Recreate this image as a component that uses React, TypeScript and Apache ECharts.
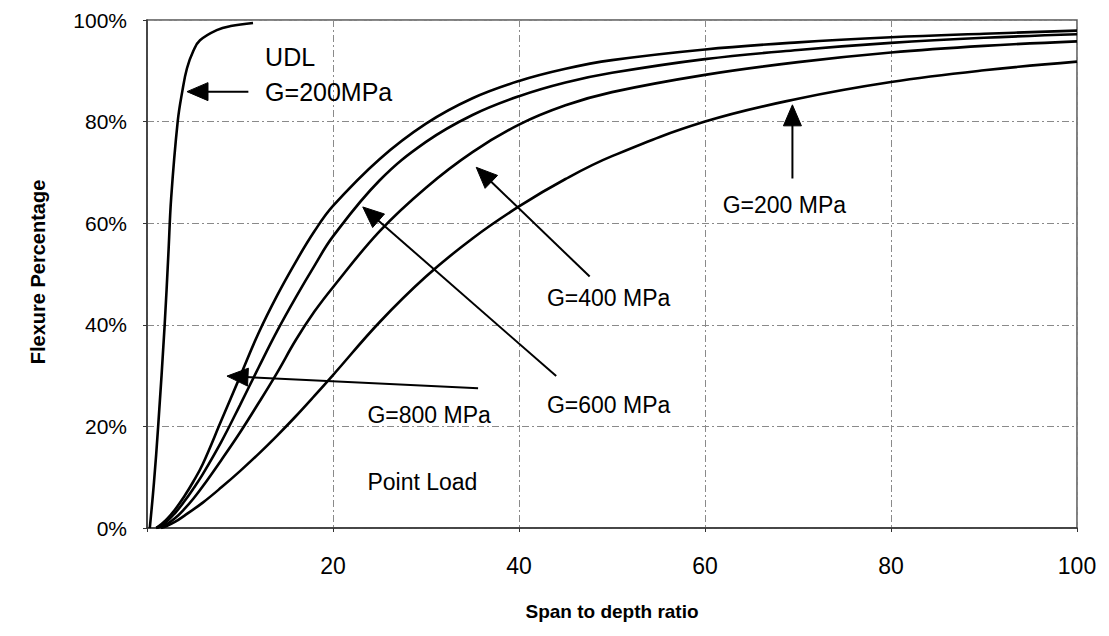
import React, { useEffect, useRef } from "react";
import * as echarts from "echarts";

// ---- data (span-to-depth ratio vs flexure percentage) ----
const udlSpan = [0.3, 0.75, 1.2, 1.9, 2.3, 2.6, 3.3, 3.8, 4.3, 5, 5.7, 7.5, 9, 11.4];
const udlFlex = [0, 9, 20, 40, 54, 65, 80, 86, 90.5, 94, 96, 98, 98.8, 99.4];

const plSpan = [1, 2, 3, 4, 5, 6, 8, 10, 12, 14, 16, 18, 20, 25, 30, 35, 40, 45, 50, 60, 70, 80, 90, 100];
const flexG800 = [0, 1.5, 3.6, 6.2, 9.2, 12.6, 21.2, 29.8, 38.4, 45.8, 52.4, 58.4, 63.4, 72.6, 79.6, 84.6, 88, 90.4, 92.1, 94.2, 95.6, 96.6, 97.3, 97.9];
const flexG600 = [0, 1.1, 2.9, 5.2, 7.8, 10.6, 17, 24.2, 31.6, 38.8, 45.4, 51.6, 57.4, 68.4, 76, 81.3, 85, 87.7, 89.6, 92.3, 94.1, 95.5, 96.5, 97.2];
const flexG400 = [0, 0.6, 1.9, 3.7, 5.8, 8.2, 13.4, 18.8, 24.6, 30.6, 37, 42.6, 47.4, 58.4, 67, 74, 79.4, 83.2, 85.8, 89.2, 91.7, 93.6, 94.9, 95.8];
const plSpanG200 = [1.5, 2, 3, 4, 6, 8, 10, 12, 14, 16, 18, 20, 25, 30, 35, 40, 45, 50, 60, 70, 80, 90, 100];
const flexG200 = [0, 0.3, 1.2, 2.4, 5, 8, 11.2, 14.6, 18.2, 22, 26, 30.1, 40.5, 49.5, 57, 63.3, 68.7, 73.2, 80, 84.5, 87.8, 90.1, 91.8];

const xTickValues = [20, 40, 60, 80, 100];

// annotations in data coordinates
const arrowTips = [[4.3, 85.9], [8.6, 29.9], [23.2, 63.2], [35.4, 71.0], [69.4, 83.3]];
const arrowTails = [[10.9, 85.9], [35.6, 27.5], [44.0, 29.9], [47.6, 49.5], [69.4, 68.8]];
const noteTexts = ["UDL", "G=200MPa", "G=800 MPa", "Point Load", "G=600 MPa", "G=400 MPa", "G=200 MPa"];
const notePos = [[12.7, 92.7], [12.7, 85.9], [23.7, 22.2], [23.7, 9.1], [43.0, 24.2], [43.0, 45.3], [61.9, 63.6]];
const noteSizes = [25, 25, 23, 23, 23, 23, 23];

const FONT = "'Liberation Sans', Arial, sans-serif";

const pairs = (xs: number[], ys: number[]) => xs.map((x, i) => [x, ys[i]]);

export default function App() {
  const ref = useRef<HTMLDivElement>(null);
  useEffect(() => {
    document.body.style.margin = "0";
    const chart = echarts.init(ref.current!, null, { renderer: "svg" });
    const lineStyle = { color: "#000", width: 2.6 };
    const mk = (name: string, data: number[][]) => ({
      type: "line",
      name,
      data,
      showSymbol: false,
      smooth: 0.4,
      lineStyle,
      z: 3,
    });
    chart.setOption({
      animation: false,
      backgroundColor: "#fff",
      grid: {
        left: 147,
        top: 20,
        right: 32,
        bottom: 108,
        show: true,
        borderColor: "#555",
        borderWidth: 1.5,
      },
      xAxis: {
        type: "value",
        min: 0,
        max: 100,
        interval: 20,
        axisLine: { show: true, lineStyle: { color: "#333", width: 1.5 } },
        axisTick: { show: true, length: 4, lineStyle: { color: "#333" } },
        axisLabel: {
          margin: 26,
          color: "#000",
          fontFamily: FONT,
          fontSize: 23,
          formatter: (v: number) => (xTickValues.includes(v) ? String(v) : ""),
        },
        splitLine: { show: true, lineStyle: { color: "#8a8a8a", width: 1, type: [7, 3, 2, 3] } },
      },
      yAxis: {
        type: "value",
        min: 0,
        max: 100,
        interval: 20,
        axisLine: { show: true, lineStyle: { color: "#333", width: 1.5 } },
        axisTick: { show: true, length: 4, lineStyle: { color: "#333" } },
        axisLabel: {
          margin: 20,
          color: "#000",
          fontFamily: FONT,
          fontSize: 21,
          formatter: "{value}%",
        },
        splitLine: { show: true, lineStyle: { color: "#8a8a8a", width: 1, type: [7, 3, 2, 3] } },
      },
      series: [
        mk("UDL G=200MPa", pairs(udlSpan, udlFlex)),
        mk("G=800 MPa", pairs(plSpan, flexG800)),
        mk("G=600 MPa", pairs(plSpan, flexG600)),
        mk("G=400 MPa", pairs(plSpan, flexG400)),
        mk("G=200 MPa", pairs(plSpanG200, flexG200)),
      ],
    });

    const toPx = (p: number[]) => chart.convertToPixel({ gridIndex: 0 }, p) as number[];
    const graphics: any[] = [];
    arrowTips.forEach((tipD, i) => {
      const tip = toPx(tipD);
      const tail = toPx(arrowTails[i]);
      const dx = tail[0] - tip[0];
      const dy = tail[1] - tip[1];
      const len = Math.hypot(dx, dy);
      const ux = dx / len;
      const uy = dy / len;
      const hl = 21;
      const hw = 9;
      const bx = tip[0] + ux * hl;
      const by = tip[1] + uy * hl;
      graphics.push({
        type: "line",
        shape: { x1: bx - ux * 2, y1: by - uy * 2, x2: tail[0], y2: tail[1] },
        style: { stroke: "#000", lineWidth: 2 },
        z: 10,
      });
      graphics.push({
        type: "polygon",
        shape: {
          points: [
            [tip[0], tip[1]],
            [bx - uy * hw, by + ux * hw],
            [bx + uy * hw, by - ux * hw],
          ],
        },
        style: { fill: "#000", stroke: "#000", lineWidth: 1 },
        z: 10,
      });
    });
    noteTexts.forEach((t, i) => {
      const p = toPx(notePos[i]);
      graphics.push({
        type: "text",
        x: p[0],
        y: p[1],
        style: {
          text: t,
          fill: "#000",
          font: `${noteSizes[i]}px ${FONT}`,
          align: "left",
          verticalAlign: "middle",
        },
        z: 10,
      });
    });
    graphics.push({
      type: "text",
      x: 612,
      y: 611,
      style: {
        text: "Span to depth ratio",
        fill: "#000",
        font: `bold 19px ${FONT}`,
        align: "center",
        verticalAlign: "middle",
      },
    });
    graphics.push({
      type: "text",
      x: 38,
      y: 272,
      rotation: Math.PI / 2,
      style: {
        text: "Flexure Percentage",
        fill: "#000",
        font: `bold 20px ${FONT}`,
        align: "center",
        verticalAlign: "middle",
      },
    });
    chart.setOption({ graphic: graphics });
    return () => chart.dispose();
  }, []);
  return (
    <div
      ref={ref}
      style={{ position: "absolute", left: 0, top: 0, width: 1109, height: 636 }}
    />
  );
}
